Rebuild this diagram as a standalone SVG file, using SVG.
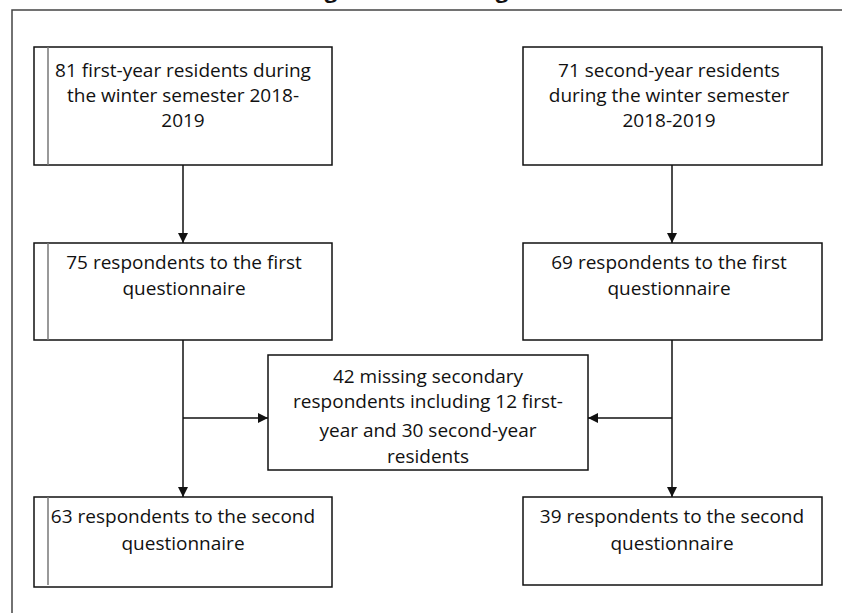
<svg xmlns="http://www.w3.org/2000/svg" width="842" height="613" viewBox="0 0 842 613">
<style>
.box{fill:#fff;stroke:#111;stroke-width:1.5}
.inner{stroke:#777;stroke-width:1.5}
.t{font-family:"Open Sans","Liberation Sans",sans-serif;font-size:19px;fill:#111;text-anchor:middle}
.title{font-family:"Open Sans","Liberation Sans",sans-serif;font-size:22px;font-weight:bold;fill:#111}
.c{stroke:#111;stroke-width:1.5;fill:none}
</style>
<defs>
<marker id="ah" viewBox="0 0 10 10" refX="10" refY="5" markerWidth="10" markerHeight="10" markerUnits="userSpaceOnUse" orient="auto">
<path d="M0,0 L10,5 L0,10 Z" fill="#111"/>
</marker>
</defs>
<rect width="842" height="613" fill="#fff"/>
<text class="title" x="306" y="-2">Figure 1. Flow diagram</text>
<path d="M12,613 V10 H842" fill="none" stroke="#444" stroke-width="1.5"/>
<g id="connectors">
<line class="c" x1="183" y1="165" x2="183" y2="243" marker-end="url(#ah)"/>
<line class="c" x1="672" y1="165" x2="672" y2="243" marker-end="url(#ah)"/>
<line class="c" x1="183" y1="340" x2="183" y2="497" marker-end="url(#ah)"/>
<line class="c" x1="672" y1="340" x2="672" y2="497" marker-end="url(#ah)"/>
<line class="c" x1="183" y1="418" x2="268" y2="418" marker-end="url(#ah)"/>
<line class="c" x1="672" y1="418" x2="588" y2="418" marker-end="url(#ah)"/>
</g>
<g id="n1">
<rect class="box" x="34" y="47" width="298" height="118"/>
<line class="inner" x1="48" y1="47" x2="48" y2="165"/>
<text class="t" x="183" y="77">81 first-year residents during</text>
<text class="t" x="183" y="102">the winter semester 2018-</text>
<text class="t" x="183" y="127">2019</text>
</g>
<g id="n2">
<rect class="box" x="523" y="47" width="299" height="118"/>
<text class="t" x="669" y="77">71 second-year residents</text>
<text class="t" x="669" y="102">during the winter semester</text>
<text class="t" x="669" y="127">2018-2019</text>
</g>
<g id="n3">
<rect class="box" x="34" y="243" width="298" height="97"/>
<line class="inner" x1="48" y1="243" x2="48" y2="340"/>
<text class="t" x="184" y="269">75 respondents to the first</text>
<text class="t" x="184" y="295">questionnaire</text>
</g>
<g id="n4">
<rect class="box" x="523" y="243" width="299" height="97"/>
<text class="t" x="669" y="269">69 respondents to the first</text>
<text class="t" x="669" y="295">questionnaire</text>
</g>
<g id="n5">
<rect class="box" x="268" y="355" width="320" height="115"/>
<text class="t" x="428" y="383">42 missing secondary</text>
<text class="t" x="428" y="408">respondents including 12 first-</text>
<text class="t" x="428" y="437">year and 30 second-year</text>
<text class="t" x="428" y="463">residents</text>
</g>
<g id="n6">
<rect class="box" x="34" y="497" width="298" height="90"/>
<line class="inner" x1="48" y1="497" x2="48" y2="585"/>
<text class="t" x="183" y="523">63 respondents to the second</text>
<text class="t" x="183" y="550">questionnaire</text>
</g>
<g id="n7">
<rect class="box" x="523" y="497" width="299" height="88"/>
<text class="t" x="672" y="523">39 respondents to the second</text>
<text class="t" x="672" y="550">questionnaire</text>
</g>
</svg>
